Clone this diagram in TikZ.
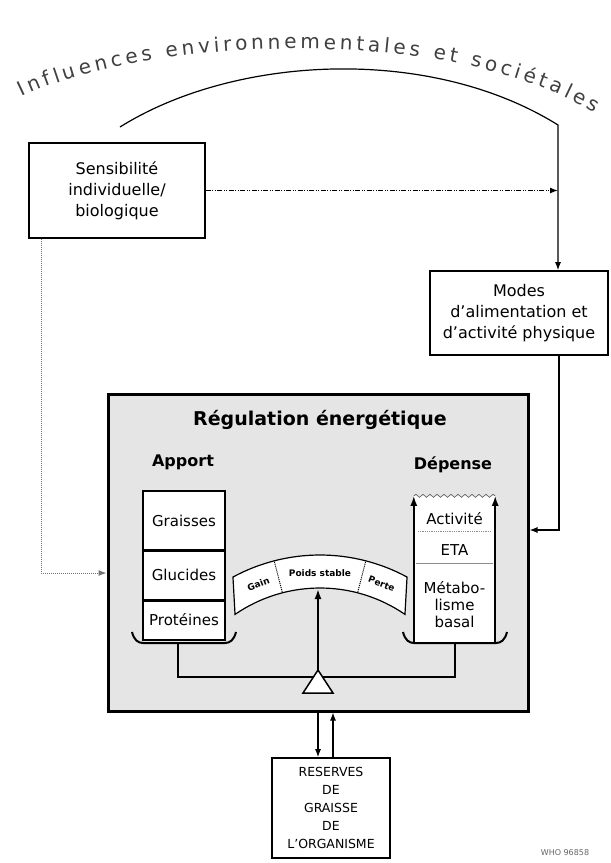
\documentclass[tikz,border=0pt]{standalone}
\usepackage{fontspec}
\setmainfont{DejaVu Sans}
\usetikzlibrary{arrows.meta,decorations.text,decorations.pathmorphing,calc}
\tikzset{
  box/.style={draw, line width=1.6pt, fill=white, align=center, inner sep=2pt,
    font=\fontsize{16}{21}\selectfont},
  cell/.style={draw, line width=1.3pt, fill=white, minimum width=82pt, inner sep=0pt,
    font=\fontsize{15}{15}\selectfont},
  arr/.style={-{Latex[length=8pt,width=6pt]}, line width=1.2pt},
  deparr/.style={-{Latex[length=10pt,width=7pt]}, line width=1.8pt},
  dotarr/.style={-{Latex[length=8pt,width=6pt]}, line width=1.2pt,
    dash pattern=on 5pt off 1.5pt on 1pt off 1.5pt on 1pt off 1.5pt},
  grayline/.style={-{Latex[length=8pt,width=6pt]}, line width=1pt, black!55, densely dotted},
  tray/.style={line width=2pt},
  bantext/.style={font=\bfseries\fontsize{9}{9}\selectfont, inner sep=0pt},
  deptext/.style={font=\fontsize{15}{17}\selectfont, align=center, inner sep=0pt},
  head/.style={font=\bfseries\fontsize{16}{16}\selectfont},
}
\begin{document}
\begin{tikzpicture}[x=1pt,y=1pt]
\useasboundingbox[fill=white] (0,0) rectangle (611,-863);

% title along arc
\path[decorate, decoration={text along path, text align=fit to path,
  text={|\fontsize{20}{20}\selectfont\color{black!75}|Influences environnementales et sociétales}}]
  (22,-97) .. controls (150,-35) and (455,-25) .. (594,-113);

% boxes
\node[box, minimum width=176pt, minimum height=95pt] (sens) at (117,-190.5)
  {Sensibilité\\individuelle/\\biologique};
\node[box, minimum width=178pt, minimum height=84pt] (modes) at (519,-313)
  {Modes\\d'alimentation et\\d'activité physique};

% main box
\node[draw, line width=3pt, fill=black!10, minimum width=420pt, minimum height=317pt,
  inner sep=0pt] (main) at (318,-552.5) {};
\node[font=\bfseries\fontsize{19}{19}\selectfont] (reg) at (320,-420) {Régulation énergétique};
\node[head] (apport) at (183,-462) {Apport};
\node[head] (depense) at (453,-465) {Dépense};

% arc and arrows at top
\coordinate (arcL) at (120,-127);
\coordinate (arcR) at (558,-125);
\draw[arr] (arcL) .. controls (235,-55) and (430,-45) .. (arcR) -- (arcR |- modes.north);
\draw[dotarr] (sens.east) -- (sens.east -| arcR);
\draw[grayline] ([xshift=13pt]sens.south west) |- ([yshift=-20.5pt]main.west);
\draw[arr] ([xshift=40pt]modes.south) |- ([yshift=22.5pt]main.east);

% apport stack
\node[cell, minimum height=59pt] (gr) at (184,-520.5) {Graisses};
\node[cell, minimum height=50pt] (gl) at (184,-575) {Glucides};
\node[cell, minimum height=40pt] (pr) at (184,-620) {Protéines};
\draw[line width=2pt] (gr.south west) -- (gr.south east);
\draw[line width=2pt] (gl.south west) -- (gl.south east);
\draw[tray] (132,-632) .. controls (134,-640) and (138,-643) .. (143,-643) -- (225,-643)
  .. controls (230,-643) and (234,-640) .. (236,-632);

% depense column
\node[fill=white, minimum width=81pt, minimum height=147pt, inner sep=0pt] (dep) at (454.5,-569.5) {};
\draw[decorate, decoration={snake, amplitude=1.5pt, segment length=7pt}, line width=0.7pt, black!60]
  (dep.north west) -- (dep.north east);
\node[deptext] (act) at (454.5,-519) {Activité};
\draw[black!45, line width=0.8pt, densely dotted] (418,-531) -- (491,-531);
\node[deptext] (eta) at (454.5,-550) {ETA};
\draw[black!45, line width=0.8pt] (416,-563) -- (493,-563);
\node[deptext] (meta) at (454.5,-605) {Métabo-\\lisme\\basal};
\draw[deparr] (dep.south west) -- (dep.north west);
\draw[deparr] (dep.south east) -- (dep.north east);
\draw[tray] (403,-632) .. controls (405,-640) and (409,-643) .. (414,-643) -- (496,-643)
  .. controls (501,-643) and (505,-640) .. (507,-632);

% balance beam
\coordinate (trayL) at (178,-643);
\coordinate (trayR) at (455,-643);
\coordinate (pivot) at (318,-677);
\draw[line width=1.6pt] (trayL) |- (pivot) -| (trayR);
\coordinate (apex) at (318,-670);
\draw[fill=white, line width=1.5pt] (apex) -- (333,-693) -- (303,-693) -- cycle;

% banner
\coordinate (bc) at (320,-738);
\draw[fill=white, line width=1.2pt] ($(bc)+(118.4:183)$) arc[start angle=118.4, end angle=61.6, radius=183]
  -- ($(bc)+(55.5:150)$) arc[start angle=55.5, end angle=124.5, radius=150] -- cycle;
\draw[densely dotted, line width=1pt] ($(bc)+(104.5:151)$) -- ($(bc)+(104.5:182)$);
\draw[densely dotted, line width=1pt] ($(bc)+(75.5:151)$) -- ($(bc)+(75.5:182)$);
\node[bantext, rotate=21] (gain) at ($(bc)+(111.8:166)$) {Gain};
\node[bantext] (stable) at ($(bc)+(90:165)$) {Poids stable};
\node[bantext, rotate=-21] (perte) at ($(bc)+(68.2:166)$) {Perte};
\coordinate (bandlow) at (318,-589);
\draw[deparr] (apex) -- (bandlow);

% reserves
\node[box, minimum width=118pt, minimum height=100pt, font=\fontsize{12.5}{18}\selectfont]
  (res) at (331,-808) {RESERVES\\DE\\GRAISSE\\DE\\L'ORGANISME};
\draw[arr] (main.south) -- (main.south |- res.north);
\draw[arr] ([xshift=15pt]main.south |- res.north) -- ([xshift=15pt]main.south);

\node[font=\fontsize{8}{8}\selectfont, text=black!60] (who) at (565,-853) {WHO 96858};
\end{tikzpicture}
\end{document}
